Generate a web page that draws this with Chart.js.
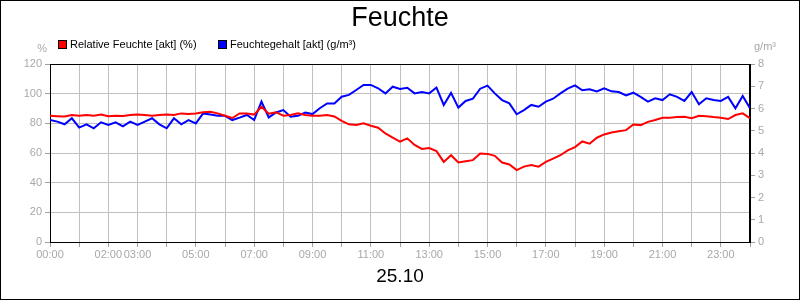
<!DOCTYPE html>
<html>
<head>
<meta charset="utf-8">
<script src="https://cdn.jsdelivr.net/npm/chart.js@4/dist/chart.umd.min.js"></script>
<style>
html,body{margin:0;padding:0;background:#fff;}
canvas{display:block;}
</style>
</head>
<body>
<canvas id="c" width="800" height="300"></canvas>
<script>
const chartTitle = 'Feuchte';
const dateLabel = '25.10';
const seriesNames = ['Relative Feuchte [akt] (%)', 'Feuchtegehalt [akt] (g/m³)'];
const unitLeft = '%';
const unitRight = 'g/m³';

// hours of day (every 15 minutes)
const times = [
  0,0.25,0.5,0.75,1,1.25,1.5,1.75,2,2.25,2.5,2.75,3,3.25,3.5,3.75,
  4,4.25,4.5,4.75,5,5.25,5.5,5.75,6,6.25,6.5,6.75,7,7.25,7.5,7.75,
  8,8.25,8.5,8.75,9,9.25,9.5,9.75,10,10.25,10.5,10.75,11,11.25,11.5,11.75,
  12,12.25,12.5,12.75,13,13.25,13.5,13.75,14,14.25,14.5,14.75,15,15.25,15.5,15.75,
  16,16.25,16.5,16.75,17,17.25,17.5,17.75,18,18.25,18.5,18.75,19,19.25,19.5,19.75,
  20,20.25,20.5,20.75,21,21.25,21.5,21.75,22,22.25,22.5,22.75,23,23.25,23.5,23.75,24
];

// Relative Feuchte (%)
const relHumidity = [
  85.1,84.8,84.6,85.6,85.1,85.6,85.1,85.9,84.8,85.1,85.0,85.6,85.9,85.6,85.1,85.6,
  85.9,85.6,86.7,86.3,86.7,87.5,87.8,86.7,85.1,83.6,86.7,86.7,85.9,91.2,86.5,87.5,
  85.1,85.6,86.7,85.6,85.1,85.1,85.6,84.6,81.6,79.3,78.9,80.0,78.4,77.0,73.2,70.3,
  67.6,69.9,65.4,62.7,63.4,61.3,54.0,58.5,53.6,54.5,55.2,59.6,59.4,58.1,53.6,52.3,
  48.5,50.8,51.9,50.8,54.0,56.2,58.5,61.8,64.0,67.8,66.3,70.3,72.5,73.8,74.7,75.4,
  79.2,78.8,81.0,82.2,83.8,83.8,84.2,84.5,83.4,85.1,84.8,84.2,83.8,82.9,85.6,86.7,83.4
];

// Feuchtegehalt (g/m³)
const absHumidity = [
  5.48,5.41,5.29,5.56,5.14,5.29,5.11,5.38,5.26,5.38,5.20,5.41,5.26,5.41,5.56,5.29,
  5.11,5.56,5.29,5.48,5.33,5.78,5.73,5.67,5.67,5.48,5.59,5.71,5.48,6.31,5.60,5.82,
  5.93,5.63,5.67,5.82,5.75,6.01,6.23,6.23,6.53,6.61,6.83,7.06,7.06,6.91,6.68,6.98,
  6.88,6.93,6.68,6.74,6.68,6.94,6.16,6.70,6.04,6.34,6.44,6.89,7.03,6.68,6.38,6.23,
  5.74,5.93,6.16,6.08,6.31,6.44,6.68,6.89,7.04,6.82,6.86,6.77,6.91,6.77,6.74,6.59,
  6.71,6.52,6.31,6.46,6.38,6.64,6.52,6.34,6.74,6.19,6.46,6.38,6.34,6.52,6.01,6.56,6.01
];

const xTickHours  = [0, 2, 3, 5, 7, 9, 11, 13, 15, 17, 19, 21, 23];
const xTickLabels = ['00:00','02:00','03:00','05:00','07:00','09:00','11:00','13:00','15:00','17:00','19:00','21:00','23:00'];

const FONT = "'Liberation Sans', Arial, sans-serif";
const GRID = '#c0c0c0';
const TICKTXT = '#a8a8a8';

const decorPlugin = {
  id: 'decor',
  beforeDraw(chart) {
    const ctx = chart.ctx;
    ctx.save();
    ctx.fillStyle = '#fff';
    ctx.fillRect(0, 0, chart.width, chart.height);
    ctx.restore();
  },
  beforeDatasetsDraw(chart) {
    const ctx = chart.ctx, a = chart.chartArea;
    ctx.save();
    ctx.strokeStyle = '#000';
    ctx.lineWidth = 1;
    ctx.strokeRect(Math.round(a.left) + 0.5, Math.round(a.top) + 0.5,
                   Math.round(a.right - a.left) - 1, Math.round(a.bottom - a.top));
    ctx.restore();
  },
  afterDraw(chart) {
    const ctx = chart.ctx, a = chart.chartArea;
    ctx.save();
    // outer frame
    ctx.strokeStyle = '#000';
    ctx.lineWidth = 1;
    ctx.strokeRect(0.5, 0.5, chart.width - 1, chart.height - 1);
    // title
    ctx.fillStyle = '#000';
    ctx.textAlign = 'center';
    ctx.textBaseline = 'middle';
    ctx.font = '27px ' + FONT;
    ctx.fillText(chartTitle, chart.width / 2, 19);
    // date label
    ctx.font = '19px ' + FONT;
    ctx.fillText(dateLabel, (a.left + a.right) / 2, 277);
    // legend
    ctx.font = '11px ' + FONT;
    ctx.textAlign = 'left';
    const legendX = [58, 218];
    chart.data.datasets.forEach((ds, i) => {
      const x = legendX[i];
      ctx.fillStyle = ds.borderColor;
      ctx.fillRect(x, 41, 8, 7);
      ctx.strokeStyle = '#000';
      ctx.strokeRect(x + 0.5, 40.5, 8, 8);
      ctx.fillStyle = '#000';
      ctx.fillText(ds.label, x + 12, 45);
    });
    // units
    ctx.fillStyle = TICKTXT;
    ctx.textAlign = 'right';
    ctx.fillText(unitLeft, 47, 49);
    ctx.textAlign = 'left';
    ctx.fillText(unitRight, 754, 47);
    ctx.restore();
  }
};

new Chart(document.getElementById('c'), {
  type: 'line',
  data: {
    datasets: [
      {
        label: seriesNames[0],
        data: times.map((t, i) => ({ x: t, y: relHumidity[i] })),
        borderColor: '#ff0000',
        backgroundColor: '#ff0000',
        borderWidth: 2,
        pointRadius: 0,
        tension: 0,
        yAxisID: 'y'
      },
      {
        label: seriesNames[1],
        data: times.map((t, i) => ({ x: t, y: absHumidity[i] })),
        borderColor: '#0000ff',
        backgroundColor: '#0000ff',
        borderWidth: 2,
        pointRadius: 0,
        tension: 0,
        yAxisID: 'y1'
      }
    ]
  },
  options: {
    responsive: false,
    animation: false,
    layout: { padding: { top: 64, left: 0, right: 0, bottom: 0 } },
    plugins: {
      legend: { display: false },
      title: { display: false },
      tooltip: { enabled: false }
    },
    scales: {
      x: {
        type: 'linear',
        min: 0, max: 24,
        afterFit(s) { s.height = 58; },
        afterBuildTicks(s) {
          const t = [];
          for (let h = 0; h <= 24; h++) t.push({ value: h });
          s.ticks = t;
        },
        ticks: {
          autoSkip: false,
          maxRotation: 0,
          padding: 1,
          color: TICKTXT,
          font: { family: FONT, size: 11 },
          callback(v) {
            const k = xTickHours.indexOf(v);
            return k >= 0 ? xTickLabels[k] : '';
          }
        },
        grid: { color: GRID, tickColor: '#a0a0a0', tickLength: 5, lineWidth: 1 },
        border: { color: '#000', width: 1 }
      },
      y: {
        position: 'left',
        min: 0, max: 120,
        afterFit(s) { s.width = 50; },
        ticks: { stepSize: 20, padding: 3, color: TICKTXT, font: { family: FONT, size: 11 } },
        grid: { color: GRID, tickColor: '#a0a0a0', tickLength: 5 },
        border: { color: '#000', width: 1 }
      },
      y1: {
        position: 'right',
        min: 0, max: 8,
        afterFit(s) { s.width = 50; },
        ticks: { stepSize: 1, padding: 3, color: TICKTXT, font: { family: FONT, size: 11 } },
        grid: { drawOnChartArea: false, tickColor: '#a0a0a0', tickLength: 5 },
        border: { color: '#000', width: 1 }
      }
    }
  },
  plugins: [decorPlugin]
});
</script>
</body>
</html>
